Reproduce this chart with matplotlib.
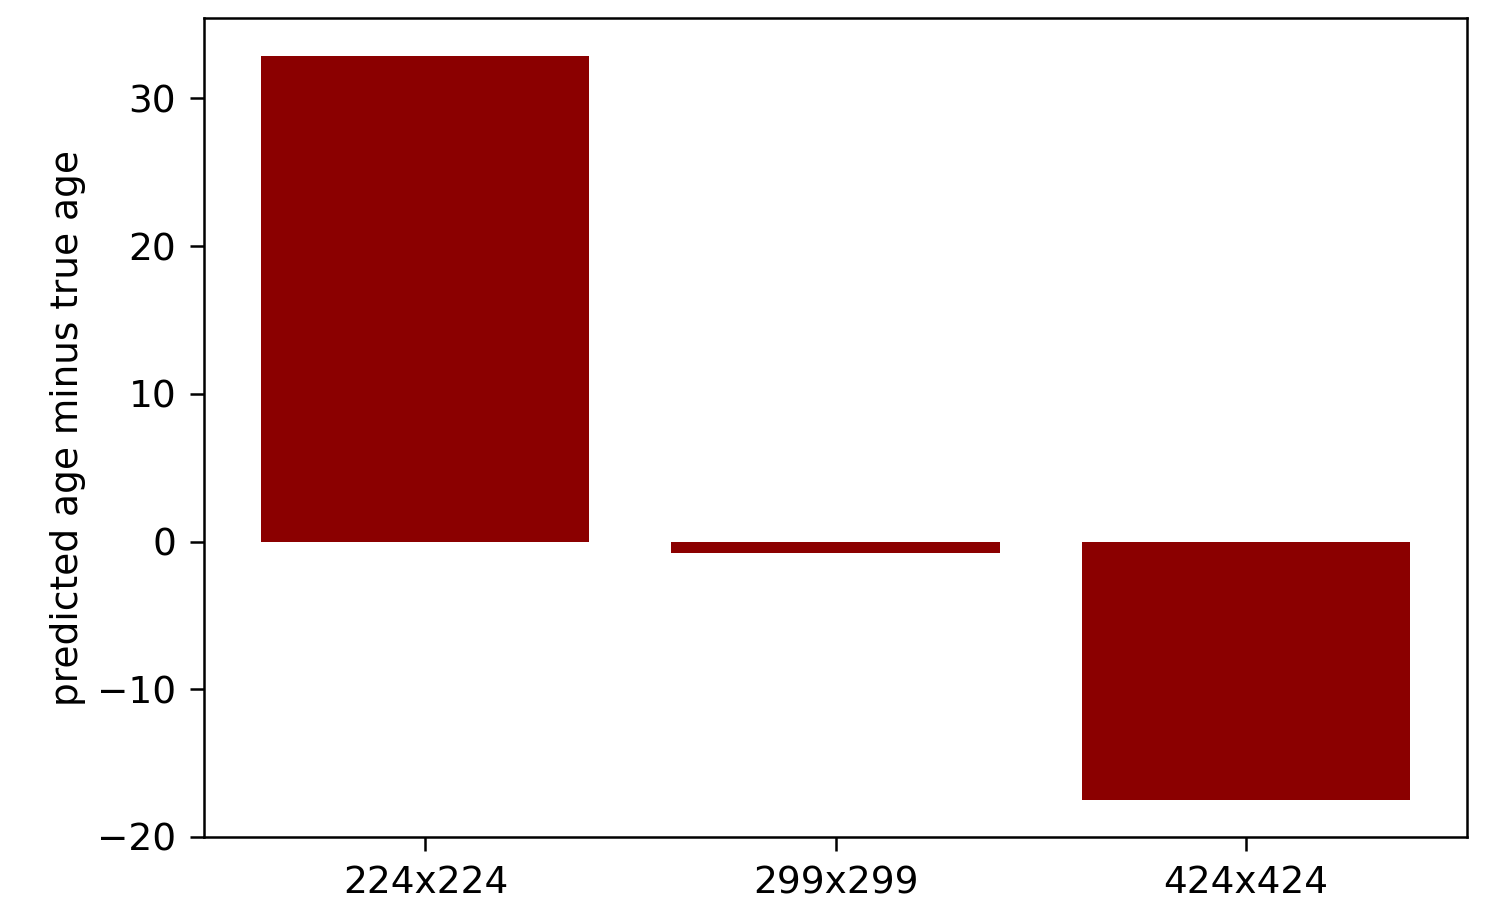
import matplotlib.pyplot as plt

resolutions = ['224x224', '299x299', '424x424']
age_diff = [32.9, -0.75, -17.5]

fig, ax = plt.subplots(figsize=(15, 9.16), dpi=100)
ax.bar(resolutions, age_diff, color='darkred', width=0.8)
ax.set_ylabel('predicted age minus true age', fontsize=27, labelpad=8)
ax.tick_params(labelsize=27, length=10, width=1.8, pad=10)
for s in ax.spines.values():
    s.set_linewidth(1.8)
fig.subplots_adjust(left=0.136, right=0.978, top=0.980, bottom=0.086)
fig.savefig('out.png')
